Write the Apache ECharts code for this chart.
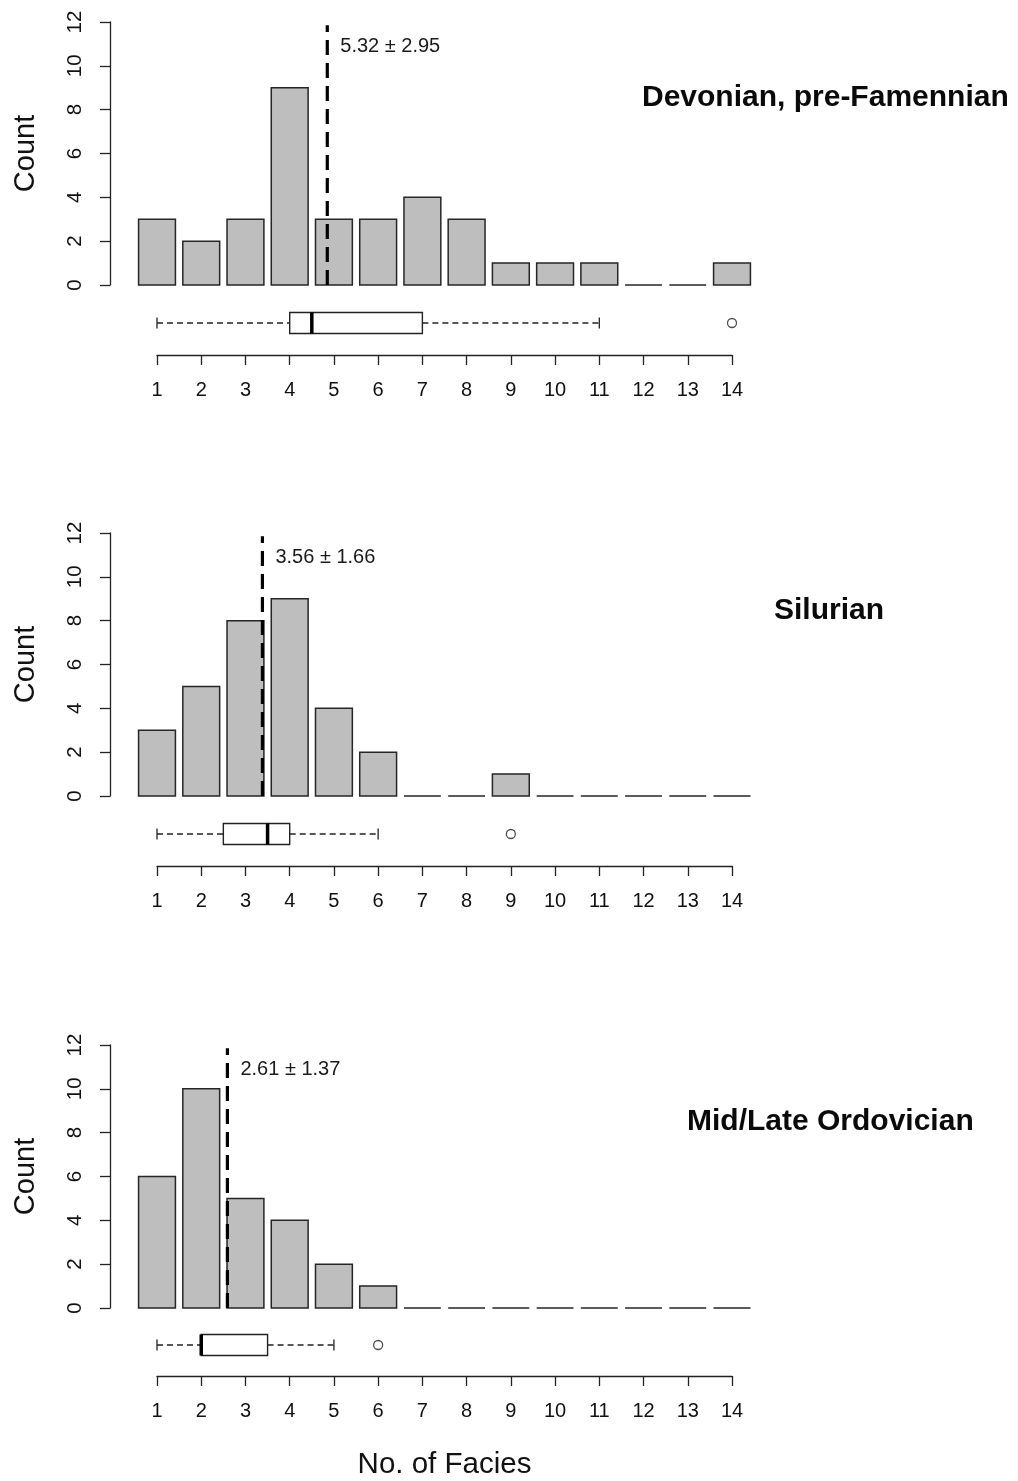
<!DOCTYPE html>
<html>
<head>
<meta charset="utf-8">
<script src="https://cdn.jsdelivr.net/npm/echarts@6/dist/echarts.min.js"></script>
<style>
  html, body { margin: 0; padding: 0; background: #fff; }
  #chart { width: 1018px; height: 1481px; }
</style>
</head>
<body>
<div id="chart"></div>
<script>
// Number of facies (histogram classes)
const facies = [1, 2, 3, 4, 5, 6, 7, 8, 9, 10, 11, 12, 13, 14];

// Counts per class for each interval
const devonianCounts   = [3, 2, 3, 9, 3, 3, 4, 3, 1, 1, 1, 0, 0, 1];
const silurianCounts   = [3, 5, 8, 9, 4, 2, 0, 0, 1, 0, 0, 0, 0, 0];
const ordovicianCounts = [6, 10, 5, 4, 2, 1, 0, 0, 0, 0, 0, 0, 0, 0];

// Box plot stats: lower whisker, lower hinge, median, upper hinge, upper whisker
const devonianBox   = [1, 4, 4.5, 7, 11];
const silurianBox   = [1, 2.5, 3.5, 4, 6];
const ordovicianBox = [1, 2, 2, 3.5, 5];

const devonianOutliers   = [14];
const silurianOutliers   = [9];
const ordovicianOutliers = [6];

// Mean ± SD
const means = [5.32, 3.56, 2.61];
const sds   = [2.95, 1.66, 1.37];

const panelTitles = ['Devonian, pre-Famennian', 'Silurian', 'Mid/Late Ordovician'];
const countTicks = [0, 2, 4, 6, 8, 10, 12];

const panels = [
  { counts: devonianCounts,   box: devonianBox,   outliers: devonianOutliers },
  { counts: silurianCounts,   box: silurianBox,   outliers: silurianOutliers },
  { counts: ordovicianCounts, box: ordovicianBox, outliers: ordovicianOutliers }
];

// ---- layout ----
const panelShift = [0, 511, 1023];
const titlePos = [[642, 83], [774, 596], [687, 1107]];
const FONT = '"Liberation Sans", Arial, sans-serif';
const INK = '#111';

// barplot positions: bar i (1-based) is centred at 0.7 + 1.2*(i-1), width 1
const barCentre = k => 0.7 + 1.2 * (k - 1);

const grid = [], xAxis = [], yAxis = [], series = [], graphic = [];

panels.forEach((p, i) => {
  const dy = panelShift[i];
  const hg = 2 * i, bg = 2 * i + 1;

  grid.push({ left: 131.2, top: 22 + dy, width: 626.6, height: 263 });
  grid.push({ left: 157, top: 303 + dy, width: 575, height: 40 });

  xAxis.push({ gridIndex: hg, type: 'value', min: 0, max: 17, show: false });
  const bx = {
    gridIndex: bg, type: 'value', min: 1, max: 14, interval: 1, offset: 12,
    position: 'bottom',
    axisLine: { show: true, onZero: false, lineStyle: { color: '#222', width: 1.3 } },
    axisTick: { show: true, length: 10, lineStyle: { color: '#222', width: 1.3 } },
    axisLabel: { fontSize: 20, color: INK, fontFamily: FONT, margin: 25 },
    splitLine: { show: false }
  };
  if (i === 2) {
    Object.assign(bx, {
      name: 'No. of Facies', nameLocation: 'middle', nameGap: 74,
      nameTextStyle: { fontSize: 29.5, color: INK, fontFamily: FONT }
    });
  }
  xAxis.push(bx);

  yAxis.push({
    gridIndex: hg, type: 'value', min: 0, max: 12, interval: 2, offset: 21.2,
    axisLine: { show: true, onZero: false, lineStyle: { color: '#222', width: 1.3 } },
    axisTick: { show: true, length: 10, lineStyle: { color: '#222', width: 1.3 } },
    axisLabel: { rotate: 90, fontSize: 20.5, color: INK, fontFamily: FONT, margin: 24,
      formatter: v => (countTicks.indexOf(v) >= 0 ? String(v) : '') },
    splitLine: { show: false },
    name: 'Count', nameLocation: 'middle', nameRotate: 90, nameGap: 70,
    nameTextStyle: { fontSize: 29, color: INK, fontFamily: FONT }
  });
  yAxis.push({ gridIndex: bg, type: 'value', min: 0, max: 1, show: false });

  // histogram bars
  series.push({
    type: 'custom', xAxisIndex: hg, yAxisIndex: hg, silent: true,
    data: facies.map((f, k) => [f, p.counts[k]]),
    renderItem: (params, api) => {
      const c = barCentre(api.value(0));
      const a = api.coord([c - 0.5, 0]);
      const b = api.coord([c + 0.5, api.value(1)]);
      return {
        type: 'rect',
        shape: { x: a[0], y: b[1], width: b[0] - a[0], height: a[1] - b[1] },
        style: { fill: '#bebebe', stroke: '#262626', lineWidth: 1.5 }
      };
    }
  });

  // mean line with label
  series.push({
    type: 'custom', xAxisIndex: hg, yAxisIndex: hg, silent: true, z: 5,
    data: [[means[i], sds[i]]],
    renderItem: (params, api) => {
      const m = api.value(0);
      const bot = api.coord([m, 0]);
      const top = api.coord([m, 11.85]);
      const lab = api.coord([m, 10.9]);
      return {
        type: 'group',
        children: [
          { type: 'line', shape: { x1: bot[0], y1: bot[1], x2: top[0], y2: top[1] },
            style: { stroke: '#000', lineWidth: 3.2, lineDash: [15, 8] } },
          { type: 'text', x: lab[0] + 13, y: lab[1],
            style: { text: m.toFixed(2) + ' \u00B1 ' + api.value(1).toFixed(2),
              fontSize: 20, fontFamily: FONT, fill: '#1a1a1a', align: 'left', verticalAlign: 'middle' } }
        ]
      };
    }
  });

  // box plot
  series.push({
    type: 'custom', xAxisIndex: bg, yAxisIndex: bg, silent: true,
    data: [p.box],
    renderItem: (params, api) => {
      const v = [0, 1, 2, 3, 4].map(k => api.coord([api.value(k), 0.5]));
      const y = v[0][1];
      const h = 10.5, s = 5.5;
      const line = (x1, y1, x2, y2, st) => ({ type: 'line', shape: { x1, y1, x2, y2 }, style: st });
      const thin = { stroke: '#222', lineWidth: 1.3 };
      const dash = { stroke: '#222', lineWidth: 1.3, lineDash: [6, 4] };
      return {
        type: 'group',
        children: [
          line(v[0][0], y, v[1][0], y, dash),
          line(v[3][0], y, v[4][0], y, dash),
          line(v[0][0], y - s, v[0][0], y + s, thin),
          line(v[4][0], y - s, v[4][0], y + s, thin),
          { type: 'rect', shape: { x: v[1][0], y: y - h, width: v[3][0] - v[1][0], height: 2 * h },
            style: { fill: '#fff', stroke: '#222', lineWidth: 1.4 } },
          line(v[2][0], y - h, v[2][0], y + h, { stroke: '#000', lineWidth: 3.5 })
        ]
      };
    }
  });

  // outliers
  series.push({
    type: 'scatter', xAxisIndex: bg, yAxisIndex: bg, silent: true,
    symbol: 'circle', symbolSize: 9,
    itemStyle: { color: '#fff', borderColor: '#222', borderWidth: 1.3 },
    data: p.outliers.map(o => [o, 0.5])
  });

  graphic.push({
    type: 'text', left: titlePos[i][0], top: titlePos[i][1],
    style: { text: panelTitles[i], fontSize: 30, fontWeight: 'bold', fontFamily: FONT, fill: '#0a0a0a' }
  });
});

const chart = echarts.init(document.getElementById('chart'), null, { renderer: 'canvas' });
chart.setOption({
  backgroundColor: '#fff',
  animation: false,
  grid, xAxis, yAxis, series, graphic
});
</script>
</body>
</html>
